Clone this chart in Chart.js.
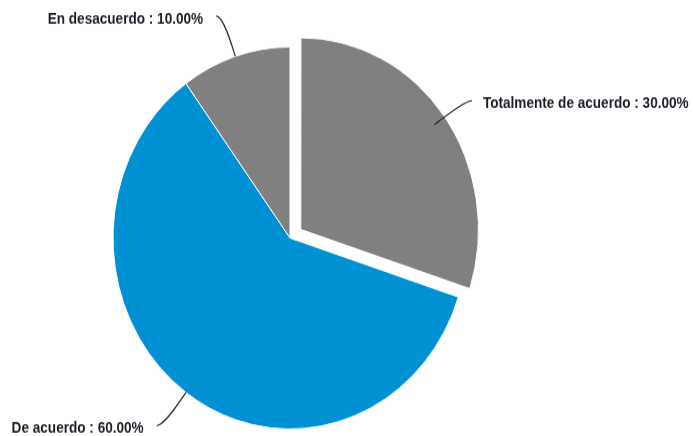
<!DOCTYPE html>
<html>
<head>
<meta charset="utf-8">
<script src="https://cdn.jsdelivr.net/npm/chart.js@4.4.1/dist/chart.umd.min.js"></script>
<style>
    html, body { margin: 0; padding: 0; background: #fff; overflow: hidden; }
    #wrap { width: 693px; height: 436px; }
    /* the pie is drawn slightly taller than wide */
    #pieChart { display: block; transform: scaleY(1.0792); transform-origin: 0 0; }
</style>
</head>
<body>
<div id="wrap">
    <canvas id="pieChart" width="693" height="404"></canvas>
</div>
<script>
const categories = ['Totalmente de acuerdo', 'De acuerdo', 'En desacuerdo'];
const values = [30, 60, 10];
const sliceColors = ['#808080', '#0090d4', '#808080'];
// Chart.js moves an arc by about a quarter of its "offset" option
const sliceOffsets = [13.4 * 4, 0, 0];

// leader lines: start and elbow as a share of the radius, then a short flat tail
const leaderStart = [0.93, 1.0, 1.0];
const leaderElbow = [1.142, 1.214, 1.222];
const leaderTail = 7;

const leaderLabels = {
    id: 'leaderLabels',
    afterDatasetsDraw(chart) {
        const ctx = chart.ctx;
        const meta = chart.getDatasetMeta(0);
        const total = values.reduce((a, b) => a + b, 0);

        ctx.save();
        ctx.font = 'bold 14px "Liberation Sans", Arial, sans-serif';
        ctx.fillStyle = '#1c1c26';
        ctx.strokeStyle = '#2a2a2a';
        ctx.lineWidth = 1.2;
        ctx.textBaseline = 'middle';

        meta.data.forEach((arc, i) => {
            const p = arc.getProps(['x', 'y', 'startAngle', 'endAngle', 'outerRadius', 'circumference'], true);
            const mid = (p.startAngle + p.endAngle) / 2;
            const cos = Math.cos(mid), sin = Math.sin(mid);
            // same shift the arc element applies when it draws itself
            const off = (arc.options.offset || 0) / 4 * (2 - Math.sin(Math.min(Math.PI, p.circumference)));
            const cx = p.x + cos * off;
            const cy = p.y + sin * off;
            const r = p.outerRadius;

            const sx = cx + cos * r * leaderStart[i];
            const sy = cy + sin * r * leaderStart[i];
            const bx = cx + cos * r * leaderElbow[i];
            const by = cy + sin * r * leaderElbow[i];
            const side = cos >= 0 ? 1 : -1;
            const ex = bx + side * leaderTail;

            ctx.beginPath();
            ctx.moveTo(sx, sy);
            ctx.bezierCurveTo(sx + cos * r * 0.08, sy + sin * r * 0.08, bx, by, ex, by);
            ctx.stroke();

            const pct = (values[i] / total * 100).toFixed(2);
            ctx.save();
            ctx.translate(ex + side * (side > 0 ? 11 : 13), by + 3);
            ctx.scale(0.97, 1);
            ctx.textAlign = side > 0 ? 'left' : 'right';
            ctx.fillText(categories[i] + ' : ' + pct + '%', 0, 0);
            ctx.restore();
        });
        ctx.restore();
    }
};

new Chart(document.getElementById('pieChart'), {
    type: 'pie',
    data: {
        labels: categories,
        datasets: [{
            data: values,
            backgroundColor: sliceColors,
            borderColor: '#ffffff',
            borderWidth: 1,
            offset: sliceOffsets,
            radius: 177
        }]
    },
    options: {
        responsive: false,
        animation: false,
        layout: { padding: { left: 0, right: 113, top: 37, bottom: 0 } },
        plugins: {
            legend: { display: false },
            tooltip: { enabled: false }
        }
    },
    plugins: [leaderLabels]
});
</script>
</body>
</html>
